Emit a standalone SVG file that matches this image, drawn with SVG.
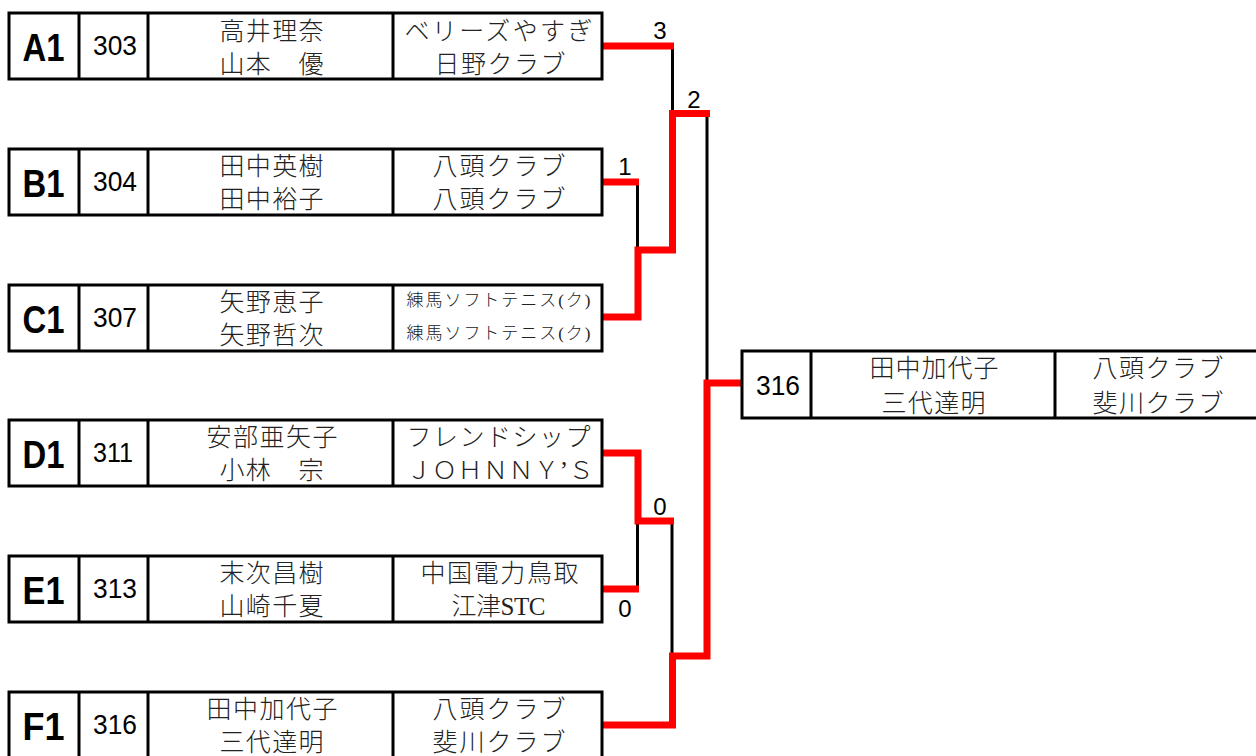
<svg xmlns="http://www.w3.org/2000/svg" width="1256" height="756" viewBox="0 0 1256 756">
<style>
.box{fill:#fff;stroke:#000;stroke-width:3}
.div{stroke:#000;stroke-width:3}
.lbl{font-family:"Liberation Sans",Arial,sans-serif;font-weight:bold;font-size:38px;text-anchor:middle;fill:#000}
.num{font-family:"Liberation Sans",Arial,sans-serif;font-size:27px;text-anchor:middle;fill:#000}
.jp{font-family:"Liberation Serif","Noto Sans CJK JP",serif;font-size:25px;text-anchor:middle;fill:#222;font-weight:300}
.jps{font-family:"Liberation Serif","Noto Sans CJK JP",serif;font-size:17px;text-anchor:middle;fill:#222;font-weight:300}
.sc{font-family:"Liberation Sans",Arial,sans-serif;font-size:24px;text-anchor:middle;fill:#000}
.red{fill:none;stroke:#ff0000;stroke-width:7;stroke-linejoin:miter;stroke-linecap:butt}
.blk{fill:none;stroke:#000;stroke-width:3}
</style>
<rect width="1256" height="756" fill="#fff"/>

<g id="connectors">
  <path class="blk" d="M672.5 46 V114"/>
  <path class="blk" d="M637.5 182 V250"/>
  <path class="blk" d="M707 114 V383"/>
  <path class="blk" d="M637.5 589 V521"/>
  <path class="blk" d="M672 521 V656"/>
  <path class="red" d="M602 46 H674"/>
  <path class="red" d="M602 182 H639"/>
  <path class="red" d="M602 317 H638 V250 H672.5 V113.5 H710"/>
  <path class="red" d="M602 453 H638 V521 H674"/>
  <path class="red" d="M602 589 H639"/>
  <path class="red" d="M602 725 H672.5 V656 H707 V383 H742"/>
  <text class="sc" x="660" y="39">3</text>
  <text class="sc" x="694" y="108">2</text>
  <text class="sc" x="625" y="175">1</text>
  <text class="sc" x="660" y="515">0</text>
  <text class="sc" x="625" y="617">0</text>
</g>

<g id="A1">
  <rect class="box" x="9" y="13" width="593" height="66"/>
  <line class="div" x1="79" y1="13" x2="79" y2="79"/><line class="div" x1="148" y1="13" x2="148" y2="79"/><line class="div" x1="393" y1="13" x2="393" y2="79"/>
  <text class="lbl" x="43.5" y="60.5" textLength="42" lengthAdjust="spacingAndGlyphs">A1</text>
  <text class="num" x="115" y="55" textLength="44" lengthAdjust="spacingAndGlyphs">303</text>
  <text class="jp" x="271.5" y="40" textLength="104">高井理奈</text>
  <text class="jp" x="271.5" y="73" textLength="104">山本　優</text>
  <text class="jp" x="498.5" y="40" textLength="188">ベリーズやすぎ</text>
  <text class="jp" x="500" y="73" textLength="131">日野クラブ</text>
</g>

<g id="B1">
  <rect class="box" x="9" y="149" width="593" height="66"/>
  <line class="div" x1="79" y1="149" x2="79" y2="215"/><line class="div" x1="148" y1="149" x2="148" y2="215"/><line class="div" x1="393" y1="149" x2="393" y2="215"/>
  <text class="lbl" x="43.5" y="196.5" textLength="42" lengthAdjust="spacingAndGlyphs">B1</text>
  <text class="num" x="115" y="191" textLength="44" lengthAdjust="spacingAndGlyphs">304</text>
  <text class="jp" x="271.5" y="175" textLength="104">田中英樹</text>
  <text class="jp" x="271.5" y="208" textLength="104">田中裕子</text>
  <text class="jp" x="499" y="175" textLength="133">八頭クラブ</text>
  <text class="jp" x="499" y="208" textLength="133">八頭クラブ</text>
</g>

<g id="C1">
  <rect class="box" x="9" y="285" width="593" height="66"/>
  <line class="div" x1="79" y1="285" x2="79" y2="351"/><line class="div" x1="148" y1="285" x2="148" y2="351"/><line class="div" x1="393" y1="285" x2="393" y2="351"/>
  <text class="lbl" x="43.5" y="332.5" textLength="42" lengthAdjust="spacingAndGlyphs">C1</text>
  <text class="num" x="115" y="327" textLength="44" lengthAdjust="spacingAndGlyphs">307</text>
  <text class="jp" x="271.5" y="311" textLength="104">矢野恵子</text>
  <text class="jp" x="271.5" y="344" textLength="104">矢野哲次</text>
  <text class="jps" x="498.5" y="306" textLength="184">練馬ソフトテニス(ク)</text>
  <text class="jps" x="498.5" y="339" textLength="184">練馬ソフトテニス(ク)</text>
</g>

<g id="D1">
  <rect class="box" x="9" y="420" width="593" height="66"/>
  <line class="div" x1="79" y1="420" x2="79" y2="486"/><line class="div" x1="148" y1="420" x2="148" y2="486"/><line class="div" x1="393" y1="420" x2="393" y2="486"/>
  <text class="lbl" x="43.5" y="467.5" textLength="42" lengthAdjust="spacingAndGlyphs">D1</text>
  <text class="num" x="113" y="462" textLength="40" lengthAdjust="spacingAndGlyphs">311</text>
  <text class="jp" x="272" y="446" textLength="131">安部亜矢子</text>
  <text class="jp" x="271.5" y="479" textLength="104">小林　宗</text>
  <text class="jp" x="498.5" y="446" textLength="184">フレンドシップ</text>
  <text class="jp" x="500" y="479" textLength="187">ＪＯＨＮＮＹ’Ｓ</text>
</g>

<g id="E1">
  <rect class="box" x="9" y="556" width="593" height="66"/>
  <line class="div" x1="79" y1="556" x2="79" y2="622"/><line class="div" x1="148" y1="556" x2="148" y2="622"/><line class="div" x1="393" y1="556" x2="393" y2="622"/>
  <text class="lbl" x="43.5" y="603.5" textLength="42" lengthAdjust="spacingAndGlyphs">E1</text>
  <text class="num" x="115" y="598" textLength="44" lengthAdjust="spacingAndGlyphs">313</text>
  <text class="jp" x="271.5" y="582" textLength="104">末次昌樹</text>
  <text class="jp" x="271.5" y="615" textLength="104">山崎千夏</text>
  <text class="jp" x="499.5" y="582" textLength="158">中国電力鳥取</text>
  <text class="jp" x="498.5" y="615" textLength="94">江津STC</text>
</g>

<g id="F1">
  <rect class="box" x="9" y="692" width="593" height="66"/>
  <line class="div" x1="79" y1="692" x2="79" y2="758"/><line class="div" x1="148" y1="692" x2="148" y2="758"/><line class="div" x1="393" y1="692" x2="393" y2="758"/>
  <text class="lbl" x="43.5" y="739.5" textLength="42" lengthAdjust="spacingAndGlyphs">F1</text>
  <text class="num" x="115" y="734" textLength="44" lengthAdjust="spacingAndGlyphs">316</text>
  <text class="jp" x="272" y="718" textLength="131">田中加代子</text>
  <text class="jp" x="271.5" y="751" textLength="104">三代達明</text>
  <text class="jp" x="499" y="718" textLength="133">八頭クラブ</text>
  <text class="jp" x="499" y="751" textLength="133">斐川クラブ</text>
</g>

<g id="winner">
  <rect class="box" x="742" y="351" width="530" height="67"/>
  <line class="div" x1="811" y1="351" x2="811" y2="418"/><line class="div" x1="1055" y1="351" x2="1055" y2="418"/>
  <text class="num" x="778" y="395" textLength="44" lengthAdjust="spacingAndGlyphs">316</text>
  <text class="jp" x="934" y="377" textLength="129">田中加代子</text>
  <text class="jp" x="933.5" y="412" textLength="104">三代達明</text>
  <text class="jp" x="1158" y="377" textLength="131">八頭クラブ</text>
  <text class="jp" x="1158" y="412" textLength="131">斐川クラブ</text>
</g>
</svg>
